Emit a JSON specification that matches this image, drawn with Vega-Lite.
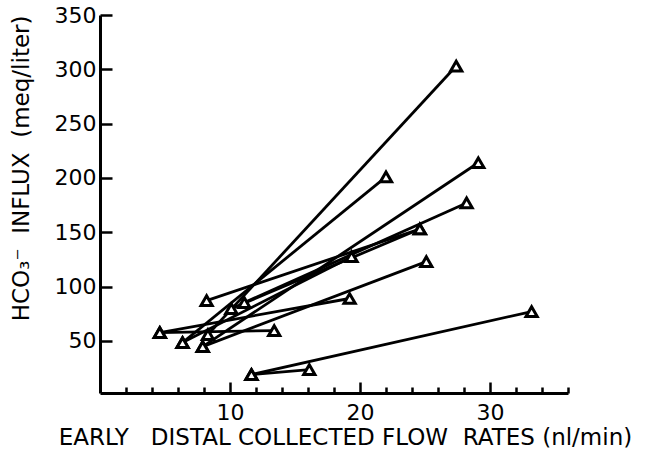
{
  "$schema": "https://vega.github.io/schema/vega-lite/v6.json",
  "autosize": "none",
  "width": 468,
  "height": 378,
  "padding": {"left": 100, "top": 15, "right": 78, "bottom": 56},
  "background": "white",
  "config": {
    "view": {"stroke": null},
    "axis": {
      "domainColor": "black",
      "domainWidth": 3,
      "tickColor": "black",
      "tickWidth": 2.5,
      "labelColor": "black",
      "titleColor": "black",
      "labelFont": "DejaVu Sans",
      "titleFont": "DejaVu Sans",
      "labelFontSize": 22,
      "titleFontWeight": "normal",
      "grid": false
    }
  },
  "datasets": {
    "segs": [
      {"seg": 1, "x": 8.3, "y": 55.8}, {"seg": 1, "x": 27.4, "y": 303},
      {"seg": 2, "x": 6.35, "y": 48.4}, {"seg": 2, "x": 22.0, "y": 201},
      {"seg": 3, "x": 7.9, "y": 44.7}, {"seg": 3, "x": 29.1, "y": 214},
      {"seg": 4, "x": 11.1, "y": 85.2}, {"seg": 4, "x": 28.2, "y": 177},
      {"seg": 5, "x": 8.2, "y": 87}, {"seg": 5, "x": 24.6, "y": 153},
      {"seg": 6, "x": 10.1, "y": 79.7}, {"seg": 6, "x": 24.6, "y": 153},
      {"seg": 7, "x": 6.35, "y": 48.4}, {"seg": 7, "x": 19.35, "y": 127.5},
      {"seg": 8, "x": 7.9, "y": 44.7}, {"seg": 8, "x": 25.1, "y": 123},
      {"seg": 9, "x": 4.6, "y": 57.6}, {"seg": 9, "x": 19.2, "y": 89},
      {"seg": 10, "x": 4.6, "y": 57.6}, {"seg": 10, "x": 13.4, "y": 59.5},
      {"seg": 11, "x": 11.65, "y": 19}, {"seg": 11, "x": 33.2, "y": 77},
      {"seg": 12, "x": 11.65, "y": 19}, {"seg": 12, "x": 16.1, "y": 23.6}
    ]
  },
  "data": {"name": "segs"},
  "encoding": {
    "x": {
      "field": "x", "type": "quantitative",
      "scale": {"domain": [0, 36], "nice": false, "zero": false},
      "axis": {
        "values": [2,4,6,8,10,12,14,16,18,20,22,24,26,28,30,32,34,36],
        "labelExpr": "datum.value % 10 === 0 ? datum.label : ''",
        "tickSize": {"condition": {"test": "datum.value % 10 === 0", "value": -11}, "value": -6},
        "labelPadding": 20,
        "title": "EARLY\u00a0\u00a0\u00a0DISTAL COLLECTED FLOW\u00a0\u00a0RATES\u00a0(nl/min)",
        "titleFontSize": 23,
        "titlePadding": 3,
        "titleX": 245
      }
    },
    "y": {
      "field": "y", "type": "quantitative",
      "scale": {"domain": [2, 350], "nice": false, "zero": false},
      "axis": {
        "values": [50,100,150,200,250,300,350],
        "tickSize": -12,
        "labelPadding": 16,
        "title": "HCO₃⁻\u00a0 INFLUX\u00a0 (meq/liter)",
        "titleFontSize": 23,
        "titleAnchor": "end",
        "titlePadding": 21
      }
    }
  },
  "layer": [
    {
      "mark": {"type": "line", "color": "black", "strokeWidth": 2.8},
      "encoding": {"detail": {"field": "seg", "type": "nominal"}}
    },
    {
      "mark": {"type": "point", "shape": "triangle-up", "filled": true, "fill": "white", "stroke": "black", "strokeWidth": 3, "size": 125, "opacity": 1}
    }
  ]
}
